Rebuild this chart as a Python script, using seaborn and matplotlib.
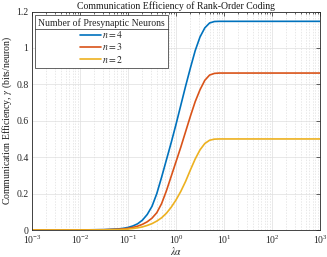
import numpy as np
import pandas as pd
import seaborn as sns
import matplotlib
matplotlib.use("Agg")
import matplotlib.pyplot as plt
from matplotlib.lines import Line2D
from matplotlib.ticker import LogLocator, NullFormatter

# ---- data ----
log_lambda_alpha = [-3.0, -2.5, -2.0, -1.5, -1.2, -1.1, -1.0, -0.9, -0.8, -0.7, -0.6,
                    -0.5, -0.4, -0.3, -0.2, -0.1, 0.0, 0.1, 0.2, 0.3, 0.4, 0.5, 0.6,
                    0.7, 0.8, 0.9, 1.0, 1.5, 2.0, 2.5, 3.0]
eff_n4 = [0.0, 0.0, 0.0003, 0.002, 0.006, 0.009, 0.014, 0.022, 0.034, 0.054, 0.085,
          0.13, 0.2, 0.29, 0.385, 0.48, 0.58, 0.685, 0.79, 0.89, 0.985, 1.06, 1.11,
          1.137, 1.145, 1.146, 1.146, 1.146, 1.146, 1.146, 1.146]
eff_n3 = [0.0, 0.0, 0.0002, 0.0015, 0.004, 0.006, 0.009, 0.014, 0.021, 0.031, 0.045,
          0.065, 0.095, 0.145, 0.215, 0.295, 0.375, 0.455, 0.54, 0.625, 0.705, 0.77, 0.822,
          0.851, 0.860, 0.862, 0.862, 0.862, 0.862, 0.862, 0.862]
eff_n2 = [0.0, 0.0, 0.0001, 0.0007, 0.002, 0.003, 0.005, 0.008, 0.012, 0.017, 0.025,
          0.035, 0.049, 0.067, 0.092, 0.125, 0.165, 0.212, 0.267, 0.33, 0.39, 0.44, 0.475,
          0.493, 0.499, 0.5, 0.5, 0.5, 0.5, 0.5, 0.5]
series_labels = [r"$n = 4$", r"$n = 3$", r"$n = 2$"]
series_colors = ["#0072BD", "#D95319", "#EDB120"]
y_ticks = [0, 0.2, 0.4, 0.6, 0.8, 1.0, 1.2]
y_ticklabels = ["0", "0.2", "0.4", "0.6", "0.8", "1", "1.2"]

lam = [10 ** v for v in log_lambda_alpha]
df = pd.concat([
    pd.DataFrame({"x": lam, "y": vals, "n": lab})
    for vals, lab in zip([eff_n4, eff_n3, eff_n2], series_labels)
], ignore_index=True)

sns.set_theme(style="white")
plt.rcParams["font.family"] = ["Liberation Serif", "DejaVu Serif"]
plt.rcParams["mathtext.fontset"] = "stix"
plt.rcParams["axes.edgecolor"] = "0.15"
plt.rcParams["xtick.color"] = "0.15"
plt.rcParams["ytick.color"] = "0.15"

fig = plt.figure(figsize=(3.27, 2.57), dpi=100)
ax = fig.add_axes([32 / 327, 27 / 257, 288 / 327, 218.5 / 257])

sns.lineplot(data=df, x="x", y="y", hue="n", palette=series_colors,
             hue_order=series_labels, ax=ax, linewidth=1.2, legend=False)

ax.set_xscale("log")
ax.set_xlim(1e-3, 1e3)
ax.set_ylim(0, 1.2)
ax.set_yticks(y_ticks)
ax.set_yticklabels(y_ticklabels)
ax.xaxis.set_major_locator(LogLocator(base=10, numticks=10))
ax.xaxis.set_minor_locator(LogLocator(base=10, subs=np.arange(2, 10), numticks=100))
ax.xaxis.set_minor_formatter(NullFormatter())

ax.grid(True, which="major", color="0.87", linewidth=0.5, linestyle="-")
ax.grid(True, which="minor", axis="x", color="0.87", linewidth=0.5, linestyle=(0, (2, 2)))

for s in ax.spines.values():
    s.set_visible(True)
    s.set_linewidth(0.6)
    s.set_color("0.15")
ax.tick_params(which="both", direction="in", top=True, right=True, labelsize=7,
               width=0.5)
ax.tick_params(axis="x", which="both", pad=2.5)
ax.tick_params(axis="y", which="both", pad=2.5)
ax.tick_params(which="major", length=3)
ax.tick_params(which="minor", length=1.5)

ax.set_title("Communication Efficiency of Rank-Order Coding", fontsize=7, pad=2, color="0.1")
ax.set_xlabel(r"$\lambda\alpha$", fontsize=7, labelpad=-0.5, color="0.1")
ax.set_ylabel(r"Communication Efficiency, $\gamma$ (bits/neuron)", fontsize=7,
              labelpad=1.5, color="0.1")

handles = [Line2D([0], [0], color=c, linewidth=1.2) for c in series_colors]
leg = ax.legend(handles, series_labels, title="Number of Presynaptic Neurons",
                loc="upper left", fontsize=7, title_fontsize=7,
                frameon=True, fancybox=False, framealpha=1, edgecolor="0.15",
                handlelength=2.2, handletextpad=0.1, labelspacing=0.15,
                borderaxespad=0.35, borderpad=0.3)
leg.get_frame().set_linewidth(0.5)

fig.canvas.draw()
bb = leg.get_window_extent()
tb = leg.get_title().get_window_extent()
ysep = tb.y0 - 1.5
inv = fig.transFigure.inverted()
(x0, y0) = inv.transform((bb.x0, ysep))
(x1, _) = inv.transform((bb.x1, ysep))
fig.add_artist(Line2D([x0, x1], [y0, y0], transform=fig.transFigure,
                      color="0.15", linewidth=0.5, zorder=10))

fig.savefig("out.png", dpi=100, facecolor="white")
